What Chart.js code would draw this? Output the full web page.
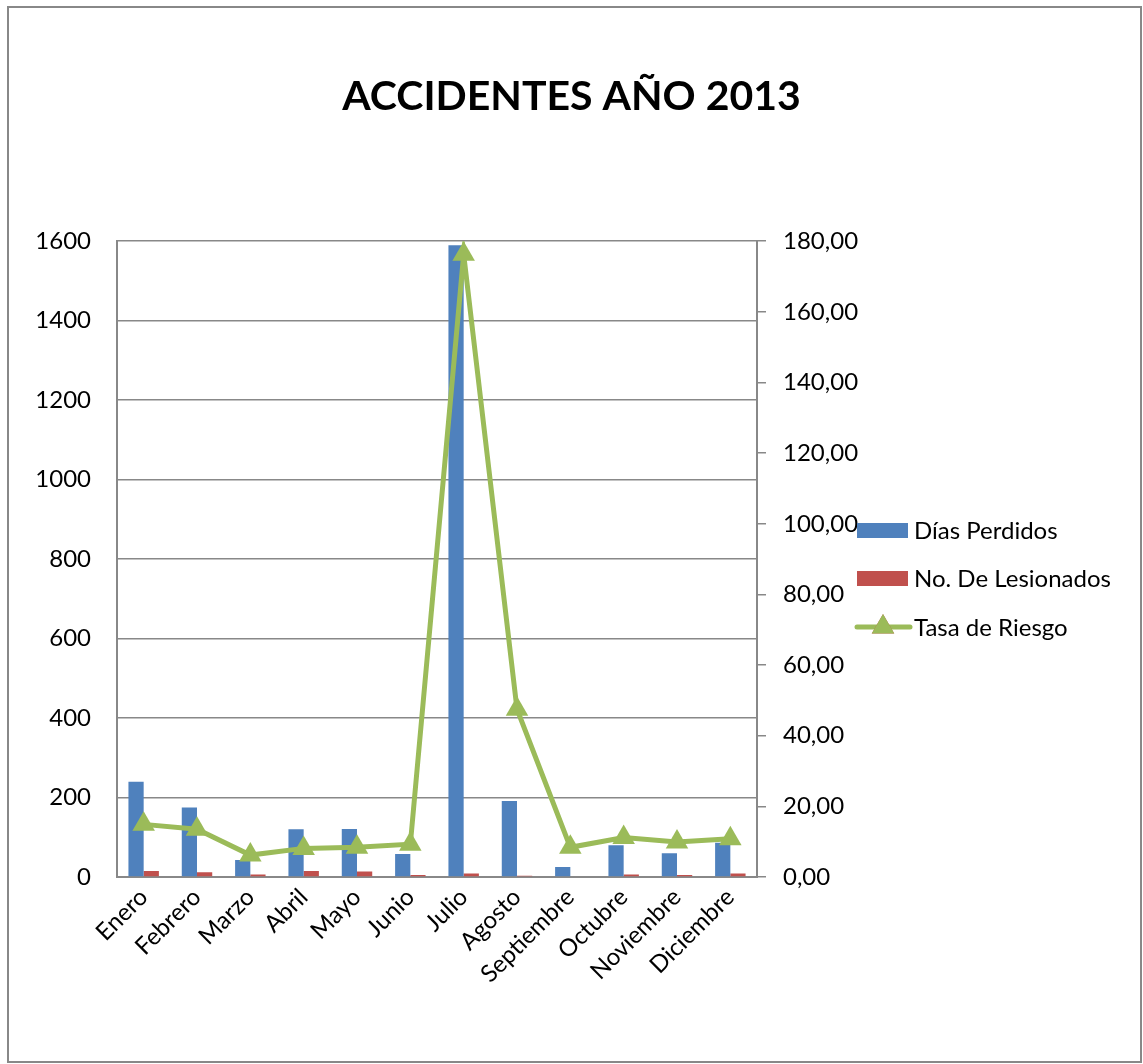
<!DOCTYPE html>
<html>
<head>
<meta charset="utf-8">
<script src="https://cdn.jsdelivr.net/npm/chart.js@4/dist/chart.umd.min.js"></script>
<style>
  html, body { margin: 0; padding: 0; background: #fff; }
  canvas { display: block; }
</style>
</head>
<body>
<canvas id="chart" width="1143" height="1064"></canvas>
<script>
// data
const months = ['Enero', 'Febrero', 'Marzo', 'Abril', 'Mayo', 'Junio', 'Julio', 'Agosto', 'Septiembre', 'Octubre', 'Noviembre', 'Diciembre'];
const diasPerdidos = [240, 175, 43, 120, 121, 58, 1590, 191, 25, 80, 60, 86];
const lesionados = [15, 12, 6, 15, 14, 5, 9, 3, 2, 6, 5, 9];
const tasaRiesgo = [14.9, 13.5, 6.2, 8.1, 8.4, 9.3, 176.3, 47.5, 8.4, 11.2, 9.9, 10.8];
const seriesNames = ['Días Perdidos', 'No. De Lesionados', 'Tasa de Riesgo'];

const BLUE = '#4F81BD', RED = '#C0504D', GREEN = '#9BBB59', GRID = '#888888';
const FONT = 'Lato, "Open Sans", sans-serif';

// outer frame + legend drawn by hand, Excel style
const framePlugin = {
  id: 'frame',
  beforeDraw(chart) {
    const c = chart.ctx;
    c.save();
    c.fillStyle = '#fff';
    c.fillRect(0, 0, chart.width, chart.height);
    c.strokeStyle = '#888';
    c.lineWidth = 2;
    c.strokeRect(8, 7, 1133, 1055);
    c.restore();
  },
  afterDraw(chart) {
    const c = chart.ctx;
    c.save();
    c.font = '24px ' + FONT;
    c.textBaseline = 'middle';
    const x0 = 857, rows = [530, 578, 627];
    c.fillStyle = BLUE;
    c.fillRect(x0, rows[0] - 7, 51, 15);
    c.fillStyle = RED;
    c.fillRect(x0, rows[1] - 7, 51, 15);
    c.strokeStyle = GREEN;
    c.lineWidth = 5;
    c.lineCap = 'round';
    c.beginPath();
    c.moveTo(x0, rows[2]);
    c.lineTo(x0 + 53, rows[2]);
    c.stroke();
    Chart.helpers.drawPoint(c, { pointStyle: 'triangle', radius: 13, borderWidth: 0 }, x0 + 26, rows[2]);
    c.fillStyle = GREEN;
    c.fill();
    c.fillStyle = '#000';
    seriesNames.forEach((n, i) => c.fillText(n, 914, rows[i] + 1));
    c.restore();
  }
};

new Chart(document.getElementById('chart'), {
  data: {
    labels: months,
    datasets: [
      { type: 'bar', label: seriesNames[0], data: diasPerdidos, backgroundColor: BLUE, yAxisID: 'y', order: 1,
        categoryPercentage: 0.571, barPercentage: 1 },
      { type: 'bar', label: seriesNames[1], data: lesionados, backgroundColor: RED, yAxisID: 'y', order: 1,
        categoryPercentage: 0.571, barPercentage: 1 },
      { type: 'line', label: seriesNames[2], data: tasaRiesgo, yAxisID: 'y1', order: 0,
        borderColor: GREEN, borderWidth: 5, tension: 0,
        pointStyle: 'triangle', pointRadius: 13, pointBackgroundColor: GREEN, pointBorderWidth: 0 }
    ]
  },
  options: {
    responsive: false,
    animation: false,
    devicePixelRatio: 1,
    layout: { padding: 0 },
    plugins: {
      legend: { display: false },
      tooltip: { enabled: false },
      title: {
        display: true,
        text: 'ACCIDENTES AÑO 2013',
        color: '#000',
        font: { family: FONT, size: 41, weight: 'bold' },
        padding: { top: 72, bottom: 120 }
      }
    },
    scales: {
      x: {
        grid: { display: false, drawTicks: false },
        border: { color: GRID, width: 2 },
        ticks: { color: '#000', font: { family: FONT, size: 24 }, minRotation: 45, maxRotation: 45, padding: 6 },
        afterFit(s) { s.height = 187; }
      },
      y: {
        position: 'left',
        min: 0, max: 1600,
        grid: { color: GRID, lineWidth: 1.5, drawTicks: false },
        border: { color: GRID, width: 2 },
        ticks: { stepSize: 200, color: '#000', font: { family: FONT, size: 24 }, padding: 26,
          callback: v => String(v) },
        afterFit(s) { s.width = 117; }
      },
      y1: {
        position: 'right',
        min: 0, max: 180,
        grid: { drawOnChartArea: false, color: GRID, lineWidth: 1.5, tickLength: 9 },
        border: { color: GRID, width: 2 },
        ticks: { stepSize: 20, color: '#000', font: { family: FONT, size: 24 }, padding: 17,
          callback: v => v.toFixed(2).replace('.', ',') },
        afterFit(s) { s.width = 386; }
      }
    }
  },
  plugins: [framePlugin]
});
</script>
</body>
</html>
